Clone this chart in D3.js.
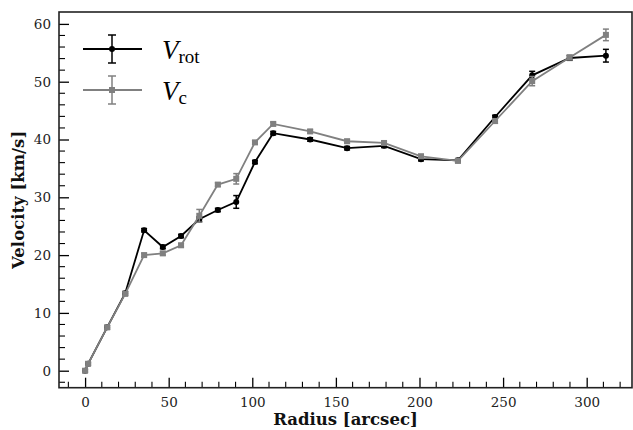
<!DOCTYPE html>
<html><head><meta charset="utf-8">
<script src="https://cdn.jsdelivr.net/npm/d3@7"></script>
<style>body{margin:0;background:#fff}svg{display:block}</style>
</head><body>
<svg id="c" width="633" height="430"></svg>
<script>
const radius = [0, 1.8, 13.2, 24, 35.3, 46.5, 57.4, 68.3, 79.4, 90.4, 101.6, 112.5, 134.6, 156.7, 178.8, 200.9, 223, 245.2, 267.4, 289.8, 311.5];
const vrot    = [0, 1.2, 7.5, 13.4, 24.3, 21.4, 23.3, 26.2, 27.8, 29.2, 36.1, 41.1, 40.0, 38.5, 38.9, 36.6, 36.4, 43.9, 51.1, 54.1, 54.5];
const vrotErr = [0.2, 0.2, 0.3, 0.3, 0.3, 0.3, 0.3, 0.4, 0.3, 1.1, 0.3, 0.3, 0.3, 0.3, 0.3, 0.3, 0.3, 0.3, 0.7, 0.4, 1.1];
const vc      = [0, 1.2, 7.5, 13.3, 20.0, 20.3, 21.7, 26.8, 32.2, 33.2, 39.5, 42.7, 41.4, 39.7, 39.4, 37.1, 36.3, 43.2, 50.1, 54.2, 58.1];
const vcErr   = [0.3, 0.3, 0.3, 0.3, 0.3, 0.3, 0.3, 1.1, 0.3, 0.9, 0.3, 0.3, 0.3, 0.3, 0.3, 0.3, 0.3, 0.4, 0.8, 0.4, 1.0];
const xTicks = [0, 50, 100, 150, 200, 250, 300];
const yTicks = [0, 10, 20, 30, 40, 50, 60];
const xLabel = "Radius [arcsec]";
const yLabel = "Velocity [km/s]";

const svg = d3.select("#c");
const L = 59, R = 632, T = 12, B = 387.7;
const x = d3.scaleLinear().domain([-15.6, 327.1]).range([L, R]);
const y = d3.scaleLinear().domain([-2.94, 62.06]).range([B, T]);
const serif = "'DejaVu Serif', serif";

function drawSeries(vals, errs, color, shape) {
  const g = svg.append("g");
  const pts = radius.map((r, i) => ({r, v: vals[i], e: errs[i]}));
  g.append("path").datum(pts)
    .attr("fill", "none").attr("stroke", color).attr("stroke-width", 1.8)
    .attr("d", d3.line().x(d => x(d.r)).y(d => y(d.v)));
  const eb = g.selectAll("g.eb").data(pts).enter().append("g").attr("stroke", color).attr("stroke-width", 1.5);
  eb.append("line").attr("x1", d => x(d.r)).attr("x2", d => x(d.r)).attr("y1", d => y(d.v - d.e)).attr("y2", d => y(d.v + d.e));
  eb.append("line").attr("x1", d => x(d.r) - 3).attr("x2", d => x(d.r) + 3).attr("y1", d => y(d.v - d.e)).attr("y2", d => y(d.v - d.e));
  eb.append("line").attr("x1", d => x(d.r) - 3).attr("x2", d => x(d.r) + 3).attr("y1", d => y(d.v + d.e)).attr("y2", d => y(d.v + d.e));
  if (shape === "circle") {
    g.selectAll("circle").data(pts).enter().append("circle")
      .attr("cx", d => x(d.r)).attr("cy", d => y(d.v)).attr("r", 3).attr("fill", color);
  } else {
    g.selectAll("rect").data(pts).enter().append("rect")
      .attr("x", d => x(d.r) - 3).attr("y", d => y(d.v) - 3).attr("width", 6).attr("height", 6).attr("fill", color);
  }
}
drawSeries(vrot, vrotErr, "#000000", "circle");
drawSeries(vc, vcErr, "#808080", "square");

const xAxis = d3.axisBottom(x).tickValues(xTicks).tickSizeInner(-10).tickSizeOuter(0).tickPadding(10).tickFormat(d3.format("d"));
const yAxis = d3.axisLeft(y).tickValues(yTicks).tickSizeInner(-10).tickSizeOuter(0).tickPadding(8).tickFormat(d3.format("d"));
const gx = svg.append("g").attr("transform", `translate(0,${B})`).call(xAxis);
const gy = svg.append("g").attr("transform", `translate(${L},0)`).call(yAxis);
[gx, gy].forEach(g => {
  g.select(".domain").remove();
  g.selectAll("line").attr("stroke", "#000").attr("stroke-width", 1.3);
  g.selectAll("text").attr("font-family", serif).attr("font-size", 13.5).attr("fill", "#222");
});
const xMinor = d3.range(-10, 330, 10).filter(v => v % 50 !== 0);
const yMinor = d3.range(-2, 62, 2).filter(v => v % 10 !== 0);
svg.append("g").selectAll("line").data(xMinor).enter().append("line")
  .attr("x1", d => x(d)).attr("x2", d => x(d)).attr("y1", B).attr("y2", B - 6)
  .attr("stroke", "#000").attr("stroke-width", 1.1);
svg.append("g").selectAll("line").data(yMinor).enter().append("line")
  .attr("x1", L).attr("x2", L + 6).attr("y1", d => y(d)).attr("y2", d => y(d))
  .attr("stroke", "#000").attr("stroke-width", 1.1);

svg.append("rect").attr("x", L).attr("y", T).attr("width", R - L).attr("height", B - T)
  .attr("fill", "none").attr("stroke", "#222").attr("stroke-width", 1.6);

svg.append("text").attr("x", (L + R) / 2).attr("y", 425).attr("text-anchor", "middle")
  .attr("font-family", serif).attr("font-weight", "bold").attr("font-size", 16.5).attr("fill", "#111").text(xLabel);
svg.append("text").attr("transform", `translate(24,${(T + B) / 2}) rotate(-90)`).attr("text-anchor", "middle")
  .attr("font-family", serif).attr("font-weight", "bold").attr("font-size", 16.5).attr("fill", "#111").text(yLabel);

const legend = [{color: "#000000", shape: "circle", sub: "rot", y: 49}, {color: "#808080", shape: "square", sub: "c", y: 90}];
legend.forEach(l => {
  const g = svg.append("g").attr("stroke", l.color);
  g.append("line").attr("x1", 83).attr("x2", 142).attr("y1", l.y).attr("y2", l.y).attr("stroke-width", 2);
  g.append("line").attr("x1", 112).attr("x2", 112).attr("y1", l.y - 14).attr("y2", l.y + 14).attr("stroke-width", 1.5);
  g.append("line").attr("x1", 108).attr("x2", 116).attr("y1", l.y - 14).attr("y2", l.y - 14).attr("stroke-width", 1.5);
  g.append("line").attr("x1", 108).attr("x2", 116).attr("y1", l.y + 14).attr("y2", l.y + 14).attr("stroke-width", 1.5);
  if (l.shape === "circle") g.append("circle").attr("cx", 112).attr("cy", l.y).attr("r", 3).attr("fill", l.color).attr("stroke", "none");
  else g.append("rect").attr("x", 109).attr("y", l.y - 3).attr("width", 6).attr("height", 6).attr("fill", l.color).attr("stroke", "none");
  const t = svg.append("text").attr("x", 162).attr("y", l.y + 10).attr("font-family", "'Liberation Serif', serif").attr("fill", "#000");
  t.append("tspan").attr("font-style", "italic").attr("font-size", 27).text("V");
  t.append("tspan").attr("font-size", 19).attr("dx", 0).attr("dy", 4).text(l.sub);
});
</script>
</body></html>
